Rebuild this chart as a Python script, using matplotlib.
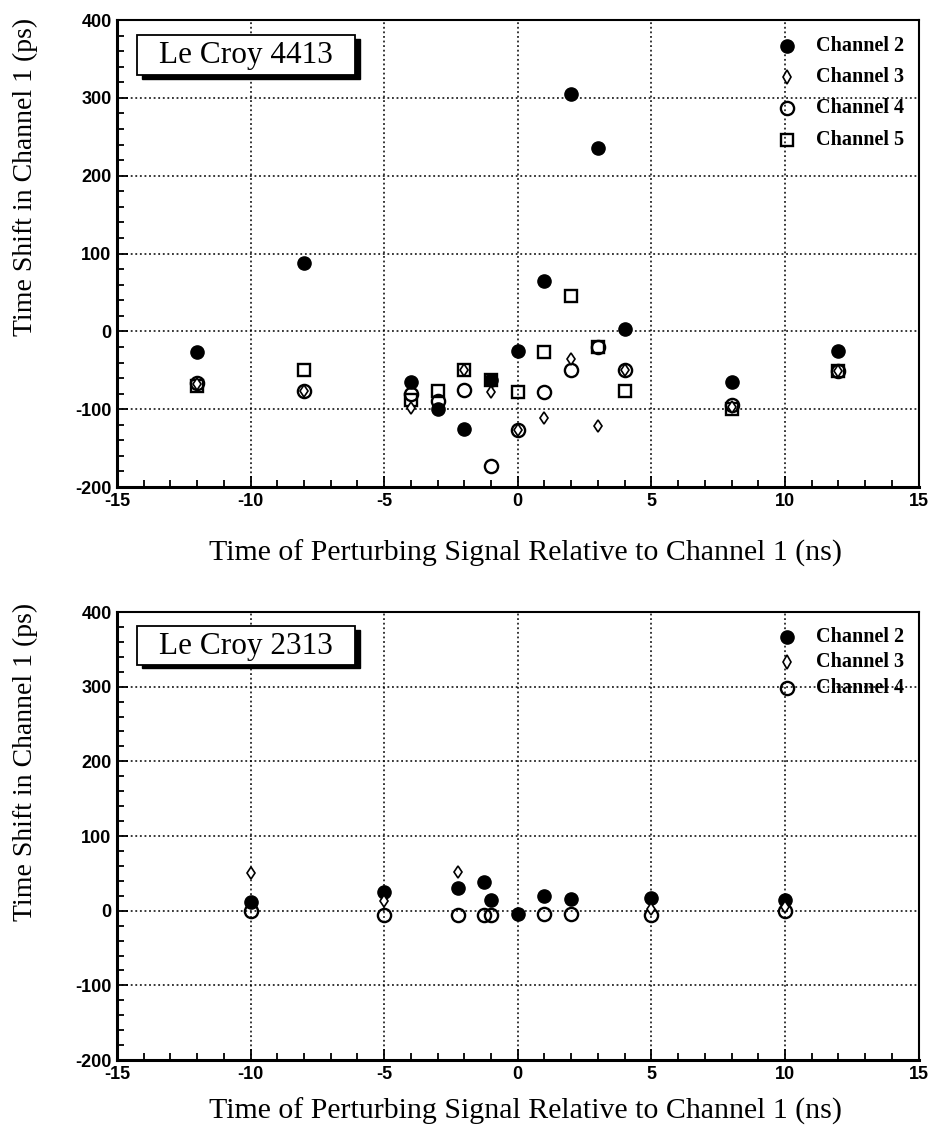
import matplotlib
matplotlib.use("Agg")
import matplotlib.pyplot as plt
from matplotlib.patches import Rectangle
from matplotlib.ticker import MultipleLocator

plt.rcParams["axes.unicode_minus"] = False

# top panel: Le Croy 4413
top_ch2_x = [-12, -8, -4, -3, -2, -1, 0, 1, 2, 3, 4, 8, 12]
top_ch2_y = [-26, 88, -65, -100, -125, -62, -25, 65, 305, 235, 3, -65, -25]
top_ch3_x = [-12, -8, -4, -2, -1, 0, 1, 2, 3, 4, 8, 12]
top_ch3_y = [-68, -76, -98, -50, -78, -127, -111, -36, -121, -50, -97, -51]
top_ch4_x = [-12, -8, -4, -3, -2, -1, 0, 1, 2, 3, 4, 8, 12]
top_ch4_y = [-66, -76, -80, -90, -75, -173, -127, -78, -50, -20, -50, -95, -51]
top_ch5_x = [-12, -8, -4, -3, -2, -1, 0, 1, 2, 3, 4, 8, 12]
top_ch5_y = [-70, -50, -88, -76, -50, -62, -78, -26, 45, -20, -77, -100, -51]

# bottom panel: Le Croy 2313
bot_ch2_x = [-10, -5, -2.25, -1.25, -1, 0, 1, 2, 5, 10]
bot_ch2_y = [12, 25, 31, 38, 14, -5, 20, 16, 17, 15]
bot_ch3_x = [-10, -5, -2.25, 5, 10]
bot_ch3_y = [50, 13, 52, 2, 5]
bot_ch4_x = [-10, -5, -2.25, -1.25, -1, 1, 2, 5, 10]
bot_ch4_y = [0, -6, -6, -6, -6, -5, -5, -6, 0]

xlabel = "Time of Perturbing Signal Relative to Channel 1 (ns)"
ylabel = "Time Shift in Channel 1 (ps)"

serif = "Liberation Serif"
sans = "Liberation Sans"

fig = plt.figure(figsize=(9.44, 11.38), dpi=100)
ax1 = fig.add_axes([0.124, 0.572, 0.849, 0.4104])
ax2 = fig.add_axes([0.124, 0.0685, 0.849, 0.3937])

styles = {
    "Channel 2": dict(marker="o", ms=9.5, mfc="black", mec="black", mew=1),
    "Channel 3": dict(marker="d", ms=7, mfc="white", mec="black", mew=1.2),
    "Channel 4": dict(marker="o", ms=9.5, mfc="none", mec="black", mew=1.7),
    "Channel 5": dict(marker="s", ms=9, mfc="none", mec="black", mew=1.7),
}


def setup(ax, title):
    ax.set_xlim(-15, 15)
    ax.set_ylim(-200, 400)
    ax.xaxis.set_major_locator(MultipleLocator(5))
    ax.xaxis.set_minor_locator(MultipleLocator(1))
    ax.yaxis.set_major_locator(MultipleLocator(100))
    ax.yaxis.set_minor_locator(MultipleLocator(20))
    ax.tick_params(which="both", direction="in", top=False, right=False,
                   width=1.3, colors="black")
    ax.tick_params(which="major", length=8, pad=4)
    ax.tick_params(which="minor", length=5)
    ax.grid(True, which="major", linestyle=(0, (1.2, 1.8)), color="black", linewidth=1.1)
    for lab in ax.get_xticklabels() + ax.get_yticklabels():
        lab.set_fontfamily(sans)
        lab.set_fontweight("bold")
        lab.set_fontsize(13)
    for s in ["left", "bottom"]:
        ax.spines[s].set_linewidth(2.2)
    for s in ["top", "right"]:
        ax.spines[s].set_linewidth(1.5)
    ax.set_xlabel(xlabel, fontfamily=serif, fontsize=21.5)
    ax.set_ylabel(ylabel, fontfamily=serif, fontsize=20)
    ax.yaxis.set_label_coords(-0.099, 0.665)
    # boxed title with drop shadow
    ax.add_patch(Rectangle((0.031, 0.874), 0.272, 0.086, transform=ax.transAxes,
                           facecolor="black", edgecolor="black", zorder=5))
    ax.add_patch(Rectangle((0.025, 0.882), 0.272, 0.086, transform=ax.transAxes,
                           facecolor="white", edgecolor="black", linewidth=1.3, zorder=6))
    ax.text(0.161, 0.924, title, transform=ax.transAxes, ha="center", va="center",
            fontfamily=serif, fontsize=22.5, zorder=7)


def legend(ax, names, y0, dy):
    for i, name in enumerate(names):
        y = y0 - i * dy
        ax.plot([0.836], [y], transform=ax.transAxes, linestyle="none",
                clip_on=False, zorder=8, **styles[name])
        ax.text(0.872, y, name, transform=ax.transAxes, ha="left", va="center",
                fontfamily=serif, fontweight="bold", fontsize=14.5, zorder=8)


setup(ax1, "Le Croy 4413")
ax1.xaxis.set_label_coords(0.51, -0.112)
ax1.plot(top_ch5_x, top_ch5_y, linestyle="none", zorder=3, **styles["Channel 5"])
ax1.plot(top_ch4_x, top_ch4_y, linestyle="none", zorder=3, **styles["Channel 4"])
ax1.plot(top_ch2_x, top_ch2_y, linestyle="none", zorder=4, **styles["Channel 2"])
ax1.plot(top_ch3_x, top_ch3_y, linestyle="none", zorder=4,
         **dict(styles["Channel 3"], ms=6))
legend(ax1, ["Channel 2", "Channel 3", "Channel 4", "Channel 5"], 0.945, 0.067)

setup(ax2, "Le Croy 2313")
ax2.xaxis.set_label_coords(0.51, -0.085)
ax2.plot(bot_ch4_x, bot_ch4_y, linestyle="none", zorder=3, **styles["Channel 4"])
ax2.plot(bot_ch2_x, bot_ch2_y, linestyle="none", zorder=4, **styles["Channel 2"])
ax2.plot(bot_ch3_x, bot_ch3_y, linestyle="none", zorder=4,
         **dict(styles["Channel 3"], ms=6))
legend(ax2, ["Channel 2", "Channel 3", "Channel 4"], 0.945, 0.057)

fig.savefig("out.png", dpi=100)
